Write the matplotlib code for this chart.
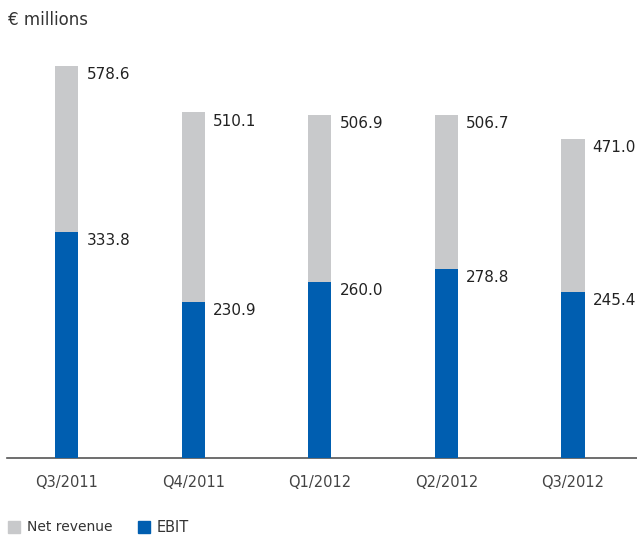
import matplotlib.pyplot as plt
from matplotlib.patches import Rectangle

quarters = ['Q3/2011', 'Q4/2011', 'Q1/2012', 'Q2/2012', 'Q3/2012']
net_revenue = [578.6, 510.1, 506.9, 506.7, 471.0]
ebit = [333.8, 230.9, 260.0, 278.8, 245.4]

gray = '#c8c9cb'
blue = '#005eb0'
txt = '#222222'

fig = plt.figure(figsize=(6.37, 5.36), dpi=100)
W, H = 637, 536
ax = fig.add_axes([7 / W, 78 / H, 630 / W, 418 / H])

x = list(range(len(quarters)))
w = 0.182
ax.bar(x, net_revenue, width=w, color=gray, zorder=2)
ax.bar(x, ebit, width=w, color=blue, zorder=3)

# value labels to the right of each bar top
for i in x:
    ax.text(i + w / 2 + 0.065, net_revenue[i] - 2, '%.1f' % net_revenue[i],
            ha='left', va='top', fontsize=11, color=txt)
    ax.text(i + w / 2 + 0.065, ebit[i] - 2, '%.1f' % ebit[i],
            ha='left', va='top', fontsize=11, color=txt)

ax.set_xlim(-0.474, 4.506)
ax.set_ylim(0, 617)
for s in ['top', 'right', 'left']:
    ax.spines[s].set_visible(False)
ax.spines['bottom'].set_color('#555555')
ax.spines['bottom'].set_linewidth(1.2)
ax.set_yticks([])
ax.set_xticks(x)
ax.set_xticklabels(quarters, fontsize=10.5, color='#444444')
ax.tick_params(axis='x', length=0, pad=12)

fig.text(8 / W, 1 - 20 / H, '€ millions', fontsize=12, color='#333333',
         ha='left', va='center')

# legend
fig.patches.append(Rectangle((8 / W, 1 - 533 / H), 12 / W, 12 / H,
                             transform=fig.transFigure, color=gray))
fig.text(27 / W, 1 - 527 / H, 'Net revenue', fontsize=10, color='#333333',
         ha='left', va='center')
fig.patches.append(Rectangle((138 / W, 1 - 533 / H), 12 / W, 12 / H,
                             transform=fig.transFigure, color=blue))
fig.text(157 / W, 1 - 527 / H, 'EBIT', fontsize=10.5, color='#333333',
         ha='left', va='center')

fig.savefig('out.png', dpi=100)
